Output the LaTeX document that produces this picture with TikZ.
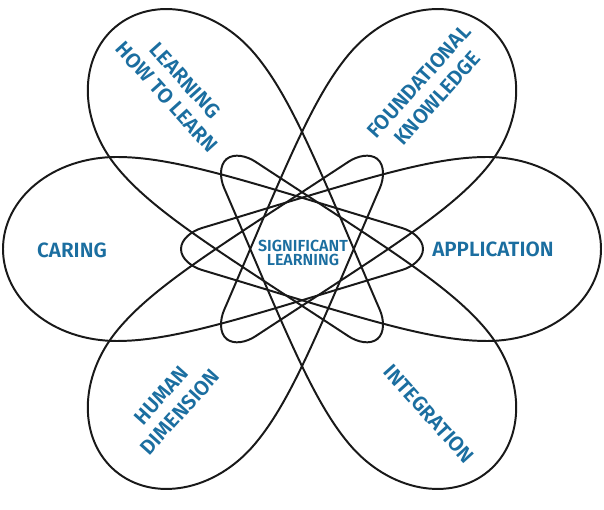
\documentclass[tikz,border=0pt]{standalone}
\usepackage{fontspec}
\setmainfont{Fira Sans}[BoldFont={Fira Sans SemiBold}]

\definecolor{petalblue}{HTML}{1B6EA0}

% one petal, tip at the left, wide end at the right
\newcommand{\petalpath}{(-121,0) .. controls (-121,10) and (-110,18) .. (-100,21)
  .. controls (50,66) and (125,92) .. (185,92)
  .. controls (250,92) and (299,50) .. (299,0)
  .. controls (299,-50) and (250,-92) .. (185,-92)
  .. controls (125,-92) and (50,-66) .. (-100,-21)
  .. controls (-110,-18) and (-121,-10) .. cycle}

\begin{document}
\begin{tikzpicture}[x=0.025cm, y=0.025cm,
    petal/.style={draw=black!90, line width=1.4pt},
    areatext/.style={text=petalblue, font=\bfseries\fontsize{14.7}{17.7}\selectfont, align=center},
    hubtext/.style={text=petalblue, font=\bfseries\fontsize{11.4}{9.4}\selectfont, align=center}]

        \useasboundingbox (-302,-261) rectangle (302,249);

        % draw the petals
        \draw[petal, rotate=0] \petalpath;
        \draw[petal, rotate=180] \petalpath;
        \draw[petal, rotate=50, scale=0.97] \petalpath;
        \draw[petal, rotate=130, scale=0.97] \petalpath;
        \draw[petal, rotate=230, scale=0.97] \petalpath;
        \draw[petal, rotate=310, scale=0.97] \petalpath;

        % the texts
        \node[hubtext] (hub) at (1,-4) {SIGNIFICANT\\LEARNING};
        \node[areatext] (caring) at (-230,-1) {CARING};
        \node[areatext] (application) at (191,0) {APPLICATION};
        \node[areatext, rotate=-48] (howto) at (-126,160) {LEARNING\\HOW TO LEARN};
        \node[areatext, rotate=48] (knowledge) at (126,159) {FOUNDATIONAL\\KNOWLEDGE};
        \node[areatext, rotate=48] (human) at (-131,-155) {HUMAN\\DIMENSION};
        \node[areatext, rotate=-48] (integration) at (127,-165) {INTEGRATION};

    \end{tikzpicture}
\end{document}
